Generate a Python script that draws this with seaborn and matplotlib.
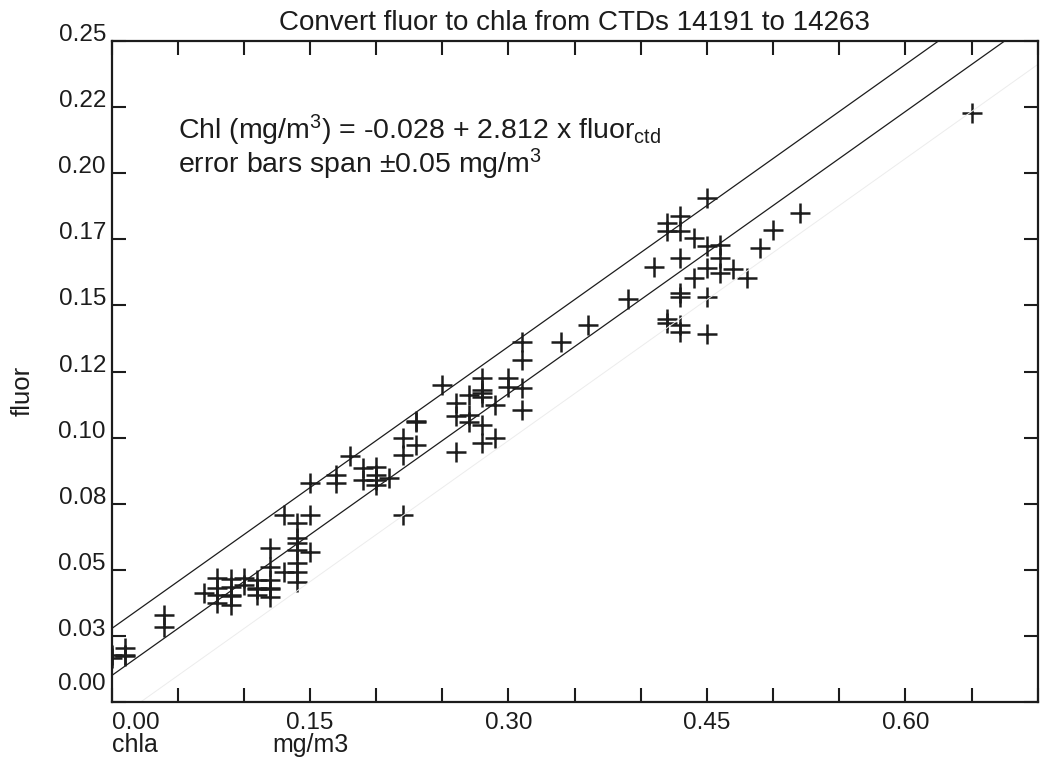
import numpy as np
import pandas as pd
import matplotlib
matplotlib.use("Agg")
import matplotlib.pyplot as plt
from matplotlib.transforms import ScaledTranslation
import seaborn as sns

# ---------------- data ----------------
chla = [0.00, 0.00, 0.01, 0.01, 0.01,
        0.04, 0.04,
        0.07,
        0.08, 0.08, 0.08, 0.08,
        0.09, 0.09, 0.09, 0.09, 0.09,
        0.10, 0.10,
        0.11, 0.11, 0.11, 0.11,
        0.12, 0.12, 0.12, 0.12, 0.12, 0.12,
        0.13, 0.13,
        0.14, 0.14, 0.14, 0.14, 0.14, 0.14, 0.14,
        0.15, 0.15, 0.15,
        0.17, 0.17,
        0.18,
        0.19, 0.19,
        0.20, 0.20, 0.20, 0.20,
        0.21,
        0.22, 0.22, 0.22,
        0.23, 0.23, 0.23,
        0.25,
        0.26, 0.26, 0.26,
        0.27, 0.27, 0.27,
        0.28, 0.28, 0.28, 0.28, 0.28, 0.28,
        0.29, 0.29,
        0.30, 0.30,
        0.31, 0.31, 0.31, 0.31,
        0.34, 0.36, 0.39, 0.41,
        0.42, 0.42, 0.42, 0.42,
        0.43, 0.43, 0.43, 0.43, 0.43, 0.43, 0.43,
        0.44, 0.44,
        0.45, 0.45, 0.45, 0.45, 0.45,
        0.46, 0.46, 0.46,
        0.47, 0.48, 0.49, 0.50, 0.52, 0.65]

fluor = [0.0165, 0.0178, 0.0203, 0.0174, 0.0176,
         0.0329, 0.0285,
         0.0411,
         0.0468, 0.0430, 0.0405, 0.0373,
         0.0466, 0.0436, 0.0405, 0.0401, 0.0367,
         0.0468, 0.0442,
         0.0461, 0.0430, 0.0427, 0.0405,
         0.0581, 0.0512, 0.0461, 0.0430, 0.0427, 0.0398,
         0.0490, 0.0707,
         0.0676, 0.0619, 0.0600, 0.0575, 0.0525, 0.0493, 0.0455,
         0.0568, 0.0707, 0.0827,
         0.0857, 0.0827,
         0.0930,
         0.0884, 0.0838,
         0.0890, 0.0859, 0.0840, 0.0821,
         0.0846,
         0.1000, 0.0936, 0.0707,
         0.1060, 0.1064, 0.0972,
         0.1200,
         0.1130, 0.1080, 0.0944,
         0.1161, 0.1085, 0.1060,
         0.1224, 0.1180, 0.1168, 0.1155, 0.1048, 0.0978,
         0.1123, 0.0997,
         0.1224, 0.1193,
         0.1363, 0.1293, 0.1186, 0.1106,
         0.1363, 0.1426, 0.1523, 0.1644,
         0.1813, 0.1783, 0.1447, 0.1435,
         0.1838, 0.1783, 0.1678, 0.1546, 0.1533, 0.1426, 0.1400,
         0.1754, 0.1602,
         0.1905, 0.1725, 0.1640, 0.1533, 0.1392,
         0.1728, 0.1678, 0.1621,
         0.1636, 0.1602, 0.1716, 0.1785, 0.1851, 0.2226]

fit_intercept = -0.028   # Chl = intercept + slope * fluor
fit_slope = 2.812
err_span = 0.05          # mg/m3

x_ticks = [0.00, 0.05, 0.10, 0.15, 0.20, 0.25, 0.30, 0.35, 0.40, 0.45,
           0.50, 0.55, 0.60, 0.65, 0.70]
x_tick_labels = ["0.00", "", "", "0.15", "", "", "0.30", "", "", "0.45",
                 "", "", "0.60", "", ""]
y_ticks = [0.000, 0.025, 0.050, 0.075, 0.100, 0.125, 0.150, 0.175,
           0.200, 0.225, 0.250]
y_tick_labels = ["0.00", "0.03", "0.05", "0.08", "0.10", "0.12", "0.15",
                 "0.17", "0.20", "0.22", "0.25"]

title = "Convert fluor to chla from CTDs 14191 to 14263"
eq_text = r"Chl (mg/m$^{3}$) = -0.028 + 2.812 x fluor$_{\mathrm{ctd}}$"
err_text = r"error bars span $\pm$0.05 mg/m$^{3}$"

# ---------------- style ----------------
sns.set_theme(style="white")
plt.rcParams["font.family"] = ["Liberation Sans", "DejaVu Sans"]
plt.rcParams["mathtext.fontset"] = "custom"
plt.rcParams["mathtext.rm"] = "Liberation Sans"
plt.rcParams["mathtext.it"] = "Liberation Sans:italic"
plt.rcParams["mathtext.bf"] = "Liberation Sans:bold"

ink = "#1c1c1c"
fig = plt.figure(figsize=(10.48, 7.62), dpi=100)
ax = fig.add_axes([0.1064, 0.0787, 0.8838, 0.8675])

# fit line and +/- error lines
line_x = np.array([0.0, 0.70])
for off, col, lw in [(err_span, ink, 0.9), (0.0, ink, 0.9), (-err_span, "#ececec", 0.7)]:
    sns.lineplot(x=line_x, y=(line_x - fit_intercept + off) / fit_slope,
                 ax=ax, color=col, linewidth=lw, legend=False)

df = pd.DataFrame({"chla": chla, "fluor": fluor})
sns.scatterplot(data=df, x="chla", y="fluor", marker="+", s=210,
                linewidth=1.8, color=ink, ax=ax, legend=False)

ax.set_xlim(0, 0.70)
ax.set_ylim(0, 0.25)
ax.set_xticks(x_ticks)
ax.set_xticklabels(x_tick_labels)
ax.set_yticks(y_ticks)
ax.set_yticklabels(y_tick_labels)
ax.tick_params(axis="both", which="major", direction="in", length=10, width=1.5,
               color=ink, labelcolor=ink, labelsize=17.5,
               top=True, right=True, bottom=True, left=True)
ax.tick_params(axis="x", pad=7)
ax.tick_params(axis="y", pad=4)

for s in ax.spines.values():
    s.set_visible(True)
    s.set_color(ink)
    s.set_linewidth(1.6)

for lbl in ax.get_yticklabels():
    lbl.set_va("baseline")
ylabs = ax.get_yticklabels()
ylabs[0].set_transform(ylabs[0].get_transform() +
                       ScaledTranslation(0, 12 / 100, fig.dpi_scale_trans))
xlabs = ax.get_xticklabels()
xlabs[0].set_ha("left")

ax.set_xlabel("")
ax.set_ylabel("fluor", fontsize=18.5, color=ink, va="center")
ax.yaxis.set_label_coords(-0.0955, 0.47)

ax.text(0.0, -0.065, "chla", transform=ax.get_xaxis_transform(),
        ha="left", va="center", fontsize=18, color=ink)
ax.text(0.15, -0.065, "mg/m3", transform=ax.get_xaxis_transform(),
        ha="center", va="center", fontsize=18, color=ink)

ax.set_title(title, fontsize=20, color=ink, pad=8)

ax.text(0.0718, 0.851, eq_text, transform=ax.transAxes, ha="left",
        va="baseline", fontsize=20.5, color=ink)
ax.text(0.0718, 0.800, err_text, transform=ax.transAxes, ha="left",
        va="baseline", fontsize=20.5, color=ink)

fig.savefig("out.png", dpi=100)
